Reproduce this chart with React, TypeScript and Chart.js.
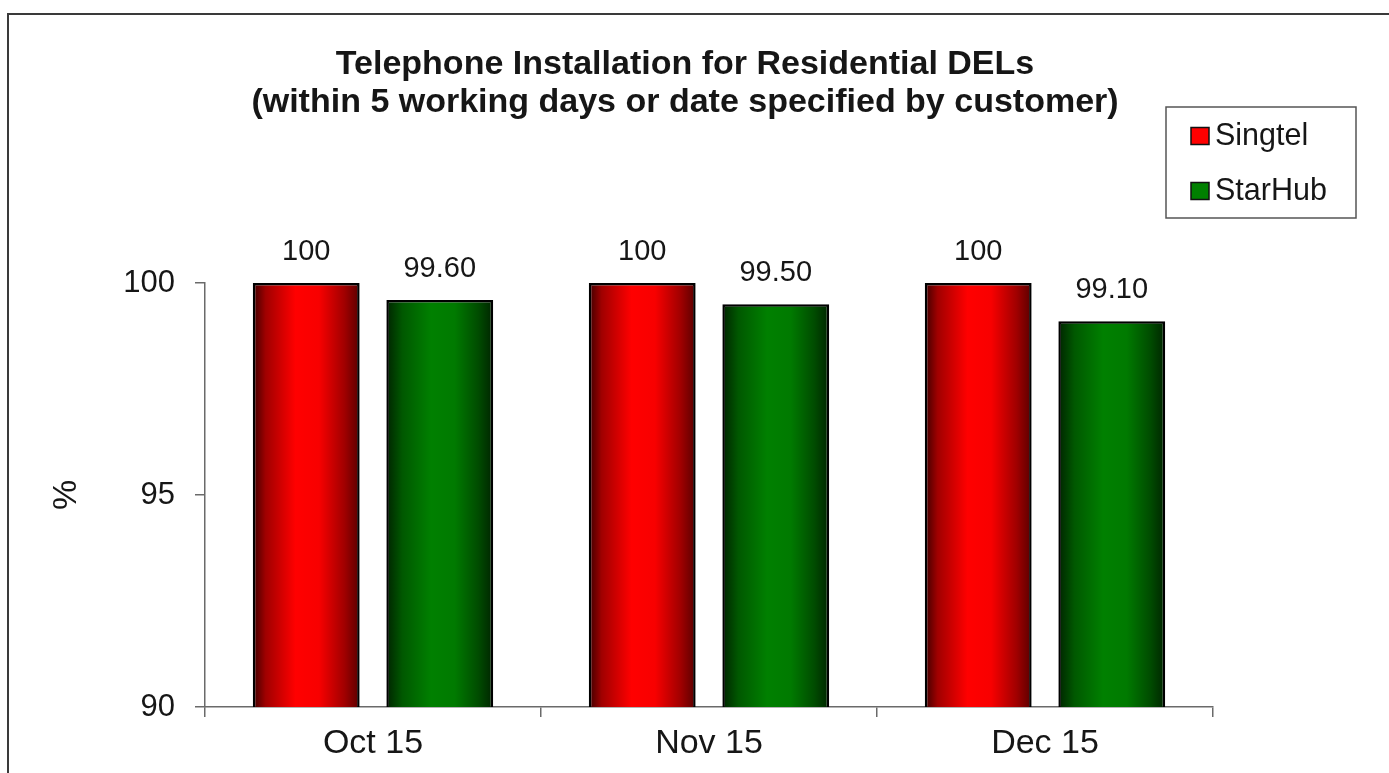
import React, { useEffect, useRef } from 'react';
import { Chart, registerables } from 'chart.js';

Chart.register(...registerables);

const categories = ['Oct 15', 'Nov 15', 'Dec 15'];
const seriesNames = ['Singtel', 'StarHub'];
const singtelValues = [100, 100, 100];
const starhubValues = [99.6, 99.5, 99.1];
const singtelLabels = ['100', '100', '100'];
const starhubLabels = ['99.60', '99.50', '99.10'];
const yTicks = [90, 95, 100];
const titleLines = [
  'Telephone Installation for Residential DELs',
  '(within 5 working days or date specified by customer)',
];
const yAxisTitle = '%';

const FONT = '"Liberation Sans", Arial, Helvetica, sans-serif';
const TEXT = '#161616';
const AXIS = '#6a6a6a';
const swatchColors = ['#ff0000', '#008000'];

const redStops: [number, string][] = [
  [0, '#3c0000'],
  [0.12, '#a00000'],
  [0.4, '#ff0000'],
  [0.62, '#f80000'],
  [0.86, '#a00000'],
  [1, '#5a0000'],
];
const greenStops: [number, string][] = [
  [0, '#002400'],
  [0.15, '#005800'],
  [0.42, '#008000'],
  [0.64, '#007a00'],
  [0.86, '#004c00'],
  [1, '#002400'],
];

const gradientPlugin = {
  id: 'barGradient',
  beforeDatasetsDraw(chart: any) {
    const ctx = chart.ctx;
    chart.data.datasets.forEach((ds: any, di: number) => {
      const meta = chart.getDatasetMeta(di);
      const stops = di === 0 ? redStops : greenStops;
      meta.data.forEach((el: any) => {
        const x = el.x;
        const w = el.width;
        const g = ctx.createLinearGradient(x - w / 2, 0, x + w / 2, 0);
        stops.forEach(([o, c]) => g.addColorStop(o, c));
        el.options = Object.assign({}, el.options, { backgroundColor: g });
      });
    });
  },
};

const labelsPlugin = {
  id: 'valueLabels',
  afterDatasetsDraw(chart: any) {
    const ctx = chart.ctx;
    ctx.save();
    ctx.font = `29px ${FONT}`;
    ctx.fillStyle = TEXT;
    ctx.textAlign = 'center';
    ctx.textBaseline = 'alphabetic';
    chart.data.datasets.forEach((ds: any, di: number) => {
      const meta = chart.getDatasetMeta(di);
      const texts = di === 0 ? singtelLabels : starhubLabels;
      meta.data.forEach((el: any, i: number) => {
        ctx.fillText(texts[i], el.x, el.y - 23);
      });
    });
    ctx.restore();
  },
};

const decorPlugin = {
  id: 'decor',
  beforeDraw(chart: any) {
    const ctx = chart.ctx;
    ctx.save();
    ctx.fillStyle = '#ffffff';
    ctx.fillRect(0, 0, chart.width, chart.height);
    ctx.strokeStyle = '#3a3a3a';
    ctx.lineWidth = 2;
    ctx.beginPath();
    ctx.moveTo(8, chart.height);
    ctx.lineTo(8, 14);
    ctx.lineTo(chart.width, 14);
    ctx.stroke();
    ctx.restore();
  },
  afterDraw(chart: any) {
    const ctx = chart.ctx;
    ctx.save();
    // Title
    ctx.fillStyle = TEXT;
    ctx.font = `bold 34px ${FONT}`;
    ctx.textAlign = 'center';
    ctx.textBaseline = 'alphabetic';
    ctx.fillText(titleLines[0], 685, 74);
    ctx.fillText(titleLines[1], 685, 112);

    // Y axis title
    const area = chart.chartArea;
    ctx.save();
    ctx.translate(67, (area.top + area.bottom) / 2);
    ctx.rotate(-Math.PI / 2);
    ctx.font = `34px ${FONT}`;
    ctx.textAlign = 'center';
    ctx.textBaseline = 'middle';
    ctx.fillText(yAxisTitle, 0, 0);
    ctx.restore();

    // Legend
    ctx.strokeStyle = '#555555';
    ctx.lineWidth = 1.5;
    ctx.strokeRect(1166, 107, 190, 111);
    ctx.font = `30.5px ${FONT}`;
    ctx.textAlign = 'left';
    ctx.textBaseline = 'middle';
    chart.data.datasets.forEach((ds: any, i: number) => {
      const cy = 136 + i * 55;
      ctx.fillStyle = swatchColors[i];
      ctx.fillRect(1191, cy - 8.5, 18, 17);
      ctx.strokeStyle = '#111111';
      ctx.lineWidth = 1.5;
      ctx.strokeRect(1191, cy - 8.5, 18, 17);
      ctx.fillStyle = TEXT;
      ctx.fillText(ds.label, 1215, cy + 1);
    });
    ctx.restore();
  },
};

export default function App() {
  const canvasRef = useRef<HTMLCanvasElement | null>(null);

  useEffect(() => {
    document.body.style.margin = '0';
    const canvas = canvasRef.current;
    if (!canvas) return;
    const chart = new Chart(canvas, {
      type: 'bar',
      data: {
        labels: categories,
        datasets: [
          {
            label: seriesNames[0],
            data: singtelValues,
            backgroundColor: () => swatchColors[0],
            borderColor: '#000000',
            borderWidth: 2.5,
            borderSkipped: false,
            categoryPercentage: 0.795,
            barPercentage: 0.8,
          },
          {
            label: seriesNames[1],
            data: starhubValues,
            backgroundColor: () => swatchColors[1],
            borderColor: '#000000',
            borderWidth: 2.5,
            borderSkipped: false,
            categoryPercentage: 0.795,
            barPercentage: 0.8,
          },
        ],
      },
      options: {
        responsive: false,
        animation: false,
        devicePixelRatio: 1,
        layout: { padding: { left: 0, top: 283, right: 176, bottom: 0 } },
        plugins: {
          legend: { display: false },
          title: { display: false },
          tooltip: { enabled: false },
        },
        scales: {
          x: {
            grid: {
              display: true,
              drawOnChartArea: false,
              drawTicks: true,
              tickLength: 10,
              offset: true,
              color: AXIS,
              lineWidth: 1.5,
            },
            border: { display: true, color: AXIS, width: 1.5 },
            ticks: {
              font: { family: FONT, size: 34 },
              color: TEXT,
              padding: 6,
              maxRotation: 0,
            },
            afterFit: (s: any) => {
              s.height = 66;
              s.paddingLeft = 0;
              s.paddingRight = 0;
            },
          },
          y: {
            min: 90,
            max: 100,
            grid: {
              display: true,
              drawOnChartArea: false,
              drawTicks: true,
              tickLength: 10,
              color: AXIS,
              lineWidth: 1.5,
            },
            border: { display: true, color: AXIS, width: 1.5 },
            ticks: {
              font: { family: FONT, size: 31 },
              color: TEXT,
              padding: 20,
            },
            afterBuildTicks: (s: any) => {
              s.ticks = yTicks.map((v) => ({ value: v }));
            },
            afterFit: (s: any) => {
              s.width = 205;
              s.paddingTop = 0;
              s.paddingBottom = 0;
            },
          },
        },
      },
      plugins: [decorPlugin, gradientPlugin, labelsPlugin],
    } as any);
    return () => chart.destroy();
  }, []);

  return (
    <div style={{ width: 1389, height: 773, position: 'relative' }}>
      <canvas ref={canvasRef} width={1389} height={773} style={{ display: 'block' }} />
    </div>
  );
}
